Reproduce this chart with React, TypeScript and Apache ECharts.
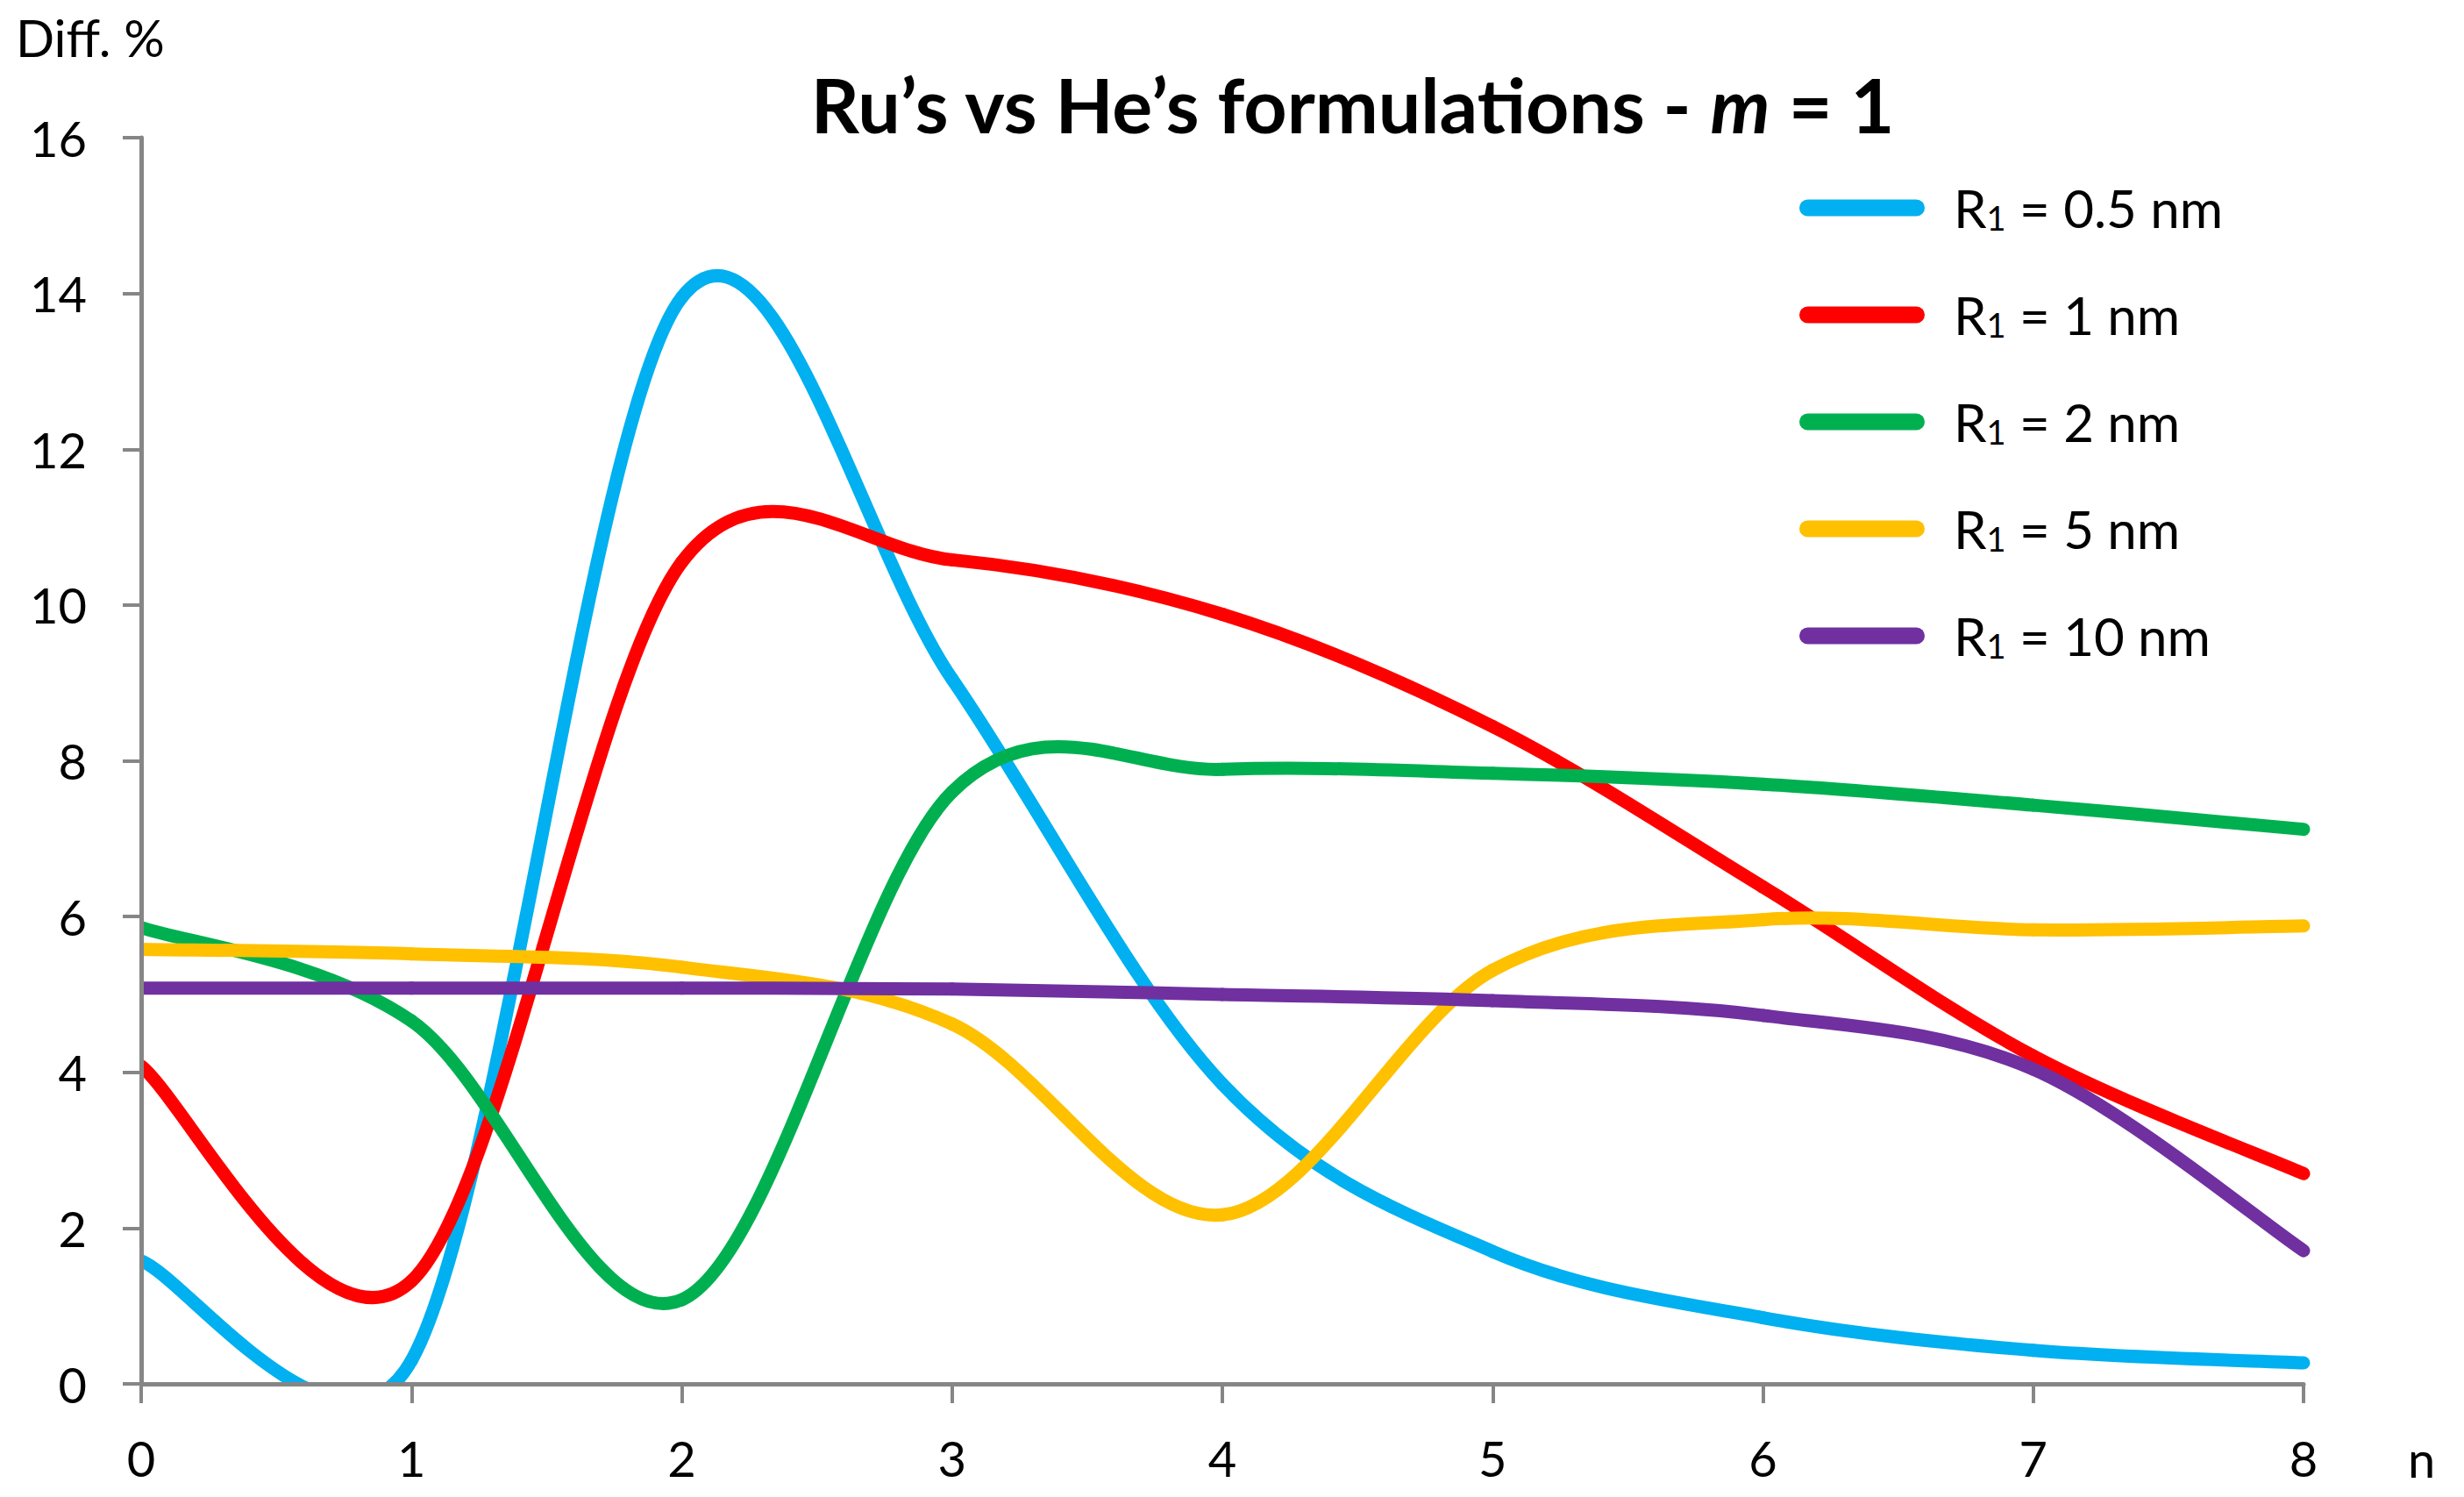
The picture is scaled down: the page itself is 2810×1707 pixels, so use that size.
import React, { useEffect, useRef } from "react";
import * as echarts from "echarts";

const nValues = [0, 1, 2, 3, 4, 5, 6, 7, 8];
const r05 = [1.58, 0.3, 13.95, 9.05, 3.85, 1.7, 0.85, 0.43, 0.27];
const r1 = [4.08, 1.32, 10.55, 10.58, 9.88, 8.44, 6.38, 4.21, 2.7];
const r2 = [5.86, 4.66, 1.08, 7.6, 7.89, 7.84, 7.7, 7.43, 7.12];
const r5 = [5.58, 5.52, 5.35, 4.62, 2.17, 5.31, 5.96, 5.83, 5.88];
const r10 = [5.08, 5.08, 5.08, 5.07, 5.0, 4.92, 4.73, 4.04, 1.71];

const seriesNames = ["R₁ = 0.5 nm", "R₁ = 1 nm", "R₁ = 2 nm", "R₁ = 5 nm", "R₁ = 10 nm"];
const seriesValues = [r05, r1, r2, r5, r10];
const seriesColors = ["#00B0F0", "#FF0000", "#00B050", "#FFC000", "#7030A0"];

const FONT = "Lato";
const LINE_W = 15;

// Excel-style smoothed segment (Bezier with 1/6 tangents, limited to half the segment)
function makeRenderItem(vals: number[], color: string) {
  return (params: any, api: any) => {
    const i = params.dataIndex;
    if (i >= vals.length - 1) return null;
    const pt = (k: number) => api.coord([nValues[k], vals[k]]) as number[];
    const p1 = pt(i);
    const p2 = pt(i + 1);
    const p0 = i > 0 ? pt(i - 1) : p1;
    const p3 = i + 2 < vals.length ? pt(i + 2) : p2;
    const dist = (a: number[], b: number[]) => Math.hypot(a[0] - b[0], a[1] - b[1]);
    const d12 = dist(p1, p2);
    const d02 = dist(p0, p2);
    const d13 = dist(p1, p3);
    let f1 = 1 / 6;
    let f2 = 1 / 6;
    if (d02 / 6 > d12 / 2 && d02 > 0) f1 = d12 / 2 / d02;
    if (d13 / 6 > d12 / 2 && d13 > 0) f2 = d12 / 2 / d13;
    const cs = params.coordSys;
    return {
      type: "bezierCurve",
      shape: {
        x1: p1[0],
        y1: p1[1],
        cpx1: p1[0] + (p2[0] - p0[0]) * f1,
        cpy1: p1[1] + (p2[1] - p0[1]) * f1,
        cpx2: p2[0] - (p3[0] - p1[0]) * f2,
        cpy2: p2[1] - (p3[1] - p1[1]) * f2,
        x2: p2[0],
        y2: p2[1],
      },
      style: { stroke: color, lineWidth: LINE_W, fill: "none", lineCap: "round", lineJoin: "round" },
      clipPath: {
        type: "rect",
        shape: { x: cs.x, y: cs.y - 80, width: cs.width + 40, height: cs.height + 83 },
      },
    };
  };
}

export default function App() {
  const ref = useRef<HTMLDivElement>(null);
  useEffect(() => {
    if (!ref.current) return;
    const chart = echarts.init(ref.current, undefined, { renderer: "svg" });
    const axisColor = "#868686";
    chart.setOption({
      animation: false,
      backgroundColor: "#ffffff",
      title: {
        text: "{b|Ru’s vs He’s formulations - }{i|m}{b| = 1}",
        left: 1537,
        textAlign: "center",
        top: 67,
        textStyle: {
          rich: {
            b: { fontFamily: FONT, fontWeight: "bold", fontSize: 86, color: "#000", lineHeight: 92 },
            i: { fontFamily: FONT, fontWeight: "bold", fontStyle: "italic", fontSize: 86, color: "#000", lineHeight: 92 },
          },
        },
      },
      grid: { left: 161, right: 183, top: 157, bottom: 129, containLabel: false },
      legend: {
        orient: "vertical",
        left: 2052,
        top: 207,
        padding: 0,
        itemGap: 62,
        itemWidth: 143,
        itemHeight: 19,
        icon: "path://M9.5,0 L133.5,0 A9.5,9.5 0 0 1 133.5,19 L9.5,19 A9.5,9.5 0 0 1 9.5,0 Z",
        data: seriesNames,
        formatter: (name: string) => `{r|R}{s|1}{r|${name.slice(2)}}`,
        textStyle: {
          padding: [0, 0, 0, 28],
          rich: {
            r: { fontFamily: FONT, fontSize: 60, color: "#000", lineHeight: 60 },
            s: { fontFamily: FONT, fontSize: 38, color: "#000", lineHeight: 60, verticalAlign: "bottom" },
          },
        },
      },
      xAxis: {
        type: "value",
        min: 0,
        max: 8,
        interval: 1,
        z: 3,
        axisLine: { show: true, lineStyle: { color: axisColor, width: 5 } },
        axisTick: { show: true, length: 22, lineStyle: { color: axisColor, width: 4 } },
        axisLabel: { fontFamily: FONT, fontSize: 56, color: "#000", margin: 56 },
        splitLine: { show: false },
      },
      yAxis: {
        type: "value",
        min: 0,
        max: 16,
        interval: 2,
        z: 3,
        axisLine: { show: true, lineStyle: { color: axisColor, width: 5 } },
        axisTick: { show: true, length: 21, lineStyle: { color: axisColor, width: 4 } },
        axisLabel: { fontFamily: FONT, fontSize: 56, color: "#000", margin: 62 },
        splitLine: { show: false },
      },
      graphic: [
        {
          type: "text",
          x: 18,
          y: 42,
          style: { text: "Diff. %", fontFamily: FONT, fontSize: 58, fill: "#000", align: "left", verticalAlign: "middle" },
        },
        {
          type: "text",
          x: 2746,
          y: 1663,
          style: { text: "n", fontFamily: FONT, fontSize: 56, fill: "#000", align: "left", verticalAlign: "middle" },
        },
      ],
      series: seriesNames.map((name, i) => ({
        name,
        type: "custom",
        coordinateSystem: "cartesian2d",
        encode: { x: 0, y: 1 },
        data: nValues.map((n, j) => [n, seriesValues[i][j]]),
        renderItem: makeRenderItem(seriesValues[i], seriesColors[i]),
        itemStyle: { color: seriesColors[i] },
        silent: true,
      })),
    });
    return () => chart.dispose();
  }, []);
  return (
    <div
      ref={ref}
      style={{ position: "fixed", left: 0, top: 0, width: 2810, height: 1707, background: "#fff" }}
    />
  );
}
